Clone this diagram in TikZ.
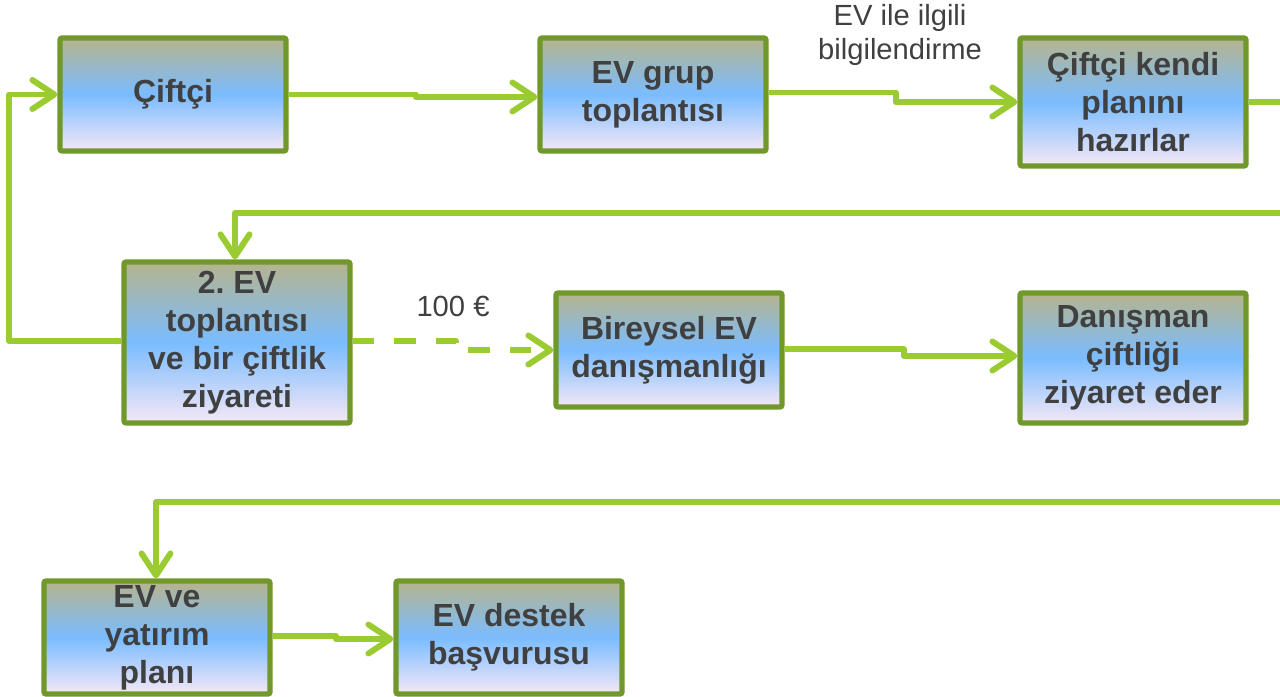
\documentclass[tikz,border=0pt]{standalone}
\usepackage{fontspec}
\setmainfont{Liberation Sans}
\usepackage{tikz}
\usetikzlibrary{arrows.meta}

\definecolor{boxgreen}{RGB}{112,152,42}
\definecolor{linegreen}{RGB}{154,204,50}
\definecolor{shadetop}{RGB}{182,180,142}
\definecolor{shademid}{RGB}{122,188,255}
\definecolor{shadebot}{RGB}{246,232,246}
\definecolor{txtgray}{RGB}{64,64,64}

\begin{document}
\frenchspacing
\begin{tikzpicture}
    \tikzstyle{stagebox} = [rectangle, draw=boxgreen, line width=1.5pt, rounded corners=0.6pt,
        top color=shadetop, bottom color=shadebot, middle color=shademid,
        inner sep=0pt, minimum width=2.26cm, minimum height=1.13cm, align=center,
        text=txtgray, font=\bfseries\fontsize{9.1}{10.8}\selectfont]
    \tikzstyle{flow} = [draw=linegreen, line width=1.7pt, line join=round,
        -{Straight Barb[length=2.2mm, width=2.9mm, round]}]
    \tikzstyle{plain} = [draw=linegreen, line width=1.7pt]
    \tikzstyle{note} = [align=center, text=txtgray, font=\fontsize{8.3}{9.9}\selectfont]

    \useasboundingbox (0,0) rectangle (12.8,6.96);

    % Boxes
    \node[stagebox] (ciftci) at (1.73,6.015) {Çiftçi};
    \node[stagebox] (grup) at (6.53,6.015) {EV grup\\toplantısı};
    \node[stagebox, minimum height=1.28cm] (plan) at (11.33,5.94) {Çiftçi kendi\\planını\\hazırlar};
    \node[stagebox, minimum height=1.61cm] (ziyaret) at (2.37,3.535) {2. EV\\toplantısı\\ve bir çiftlik\\ziyareti};
    \node[stagebox, minimum height=1.14cm] (bireysel) at (6.69,3.46) {Bireysel EV\\danışmanlığı};
    \node[stagebox, minimum height=1.30cm] (danisman) at (11.33,3.38) {Danışman\\çiftliği\\ziyaret eder};
    \node[stagebox] (yatirim) at (1.57,0.585) {EV ve\\yatırım\\planı};
    \node[stagebox] (destek) at (5.09,0.585) {EV destek\\başvurusu};

    % Labels
    \node[note] (bilgi) at (9.00,6.61) {EV ile ilgili\\bilgilendirme};
    \node[note] (ucret) at (4.53,3.90) {100 €};

    % Edge of page
    \coordinate (out1) at (12.8,5.95);
    \coordinate (in1) at (12.8,4.83);
    \coordinate (out2) at (12.8,3.40);
    \coordinate (in2) at (12.8,1.94);

    % Connectors
    \draw[flow] (ciftci.east) -- ++(1.27,0) |- ([yshift=-0.25mm]grup.west);
    \draw[flow] ([yshift=0.2mm]grup.east) -- ++(1.27,0) |- (plan.west);
    \draw[plain] (plan.east) -- (plan.east -| out1);
    \draw[flow] (in1) -| ([xshift=-0.2mm]ziyaret.north);
    \draw[flow] ([yshift=0.15mm]ziyaret.west) -- ++(-1.12,0) |- (ciftci.west);
    \draw[flow, dash pattern=on 6.2pt off 5.6pt] ([yshift=0.15mm]ziyaret.east) -- ++(1.03,0) |- (bireysel.west);
    \draw[flow] ([yshift=0.1mm]bireysel.east) -- ++(1.19,0) |- ([yshift=0.2mm]danisman.west);
    \draw[plain] ([yshift=0.2mm]danisman.east) -- (danisman.east |- out2);
    \draw[flow] (in2) -| ([xshift=-0.1mm]yatirim.north);
    \draw[flow] ([yshift=0.15mm]yatirim.east) -- ++(0.63,0) |- ([yshift=-0.15mm]destek.west);
\end{tikzpicture}
\end{document}
